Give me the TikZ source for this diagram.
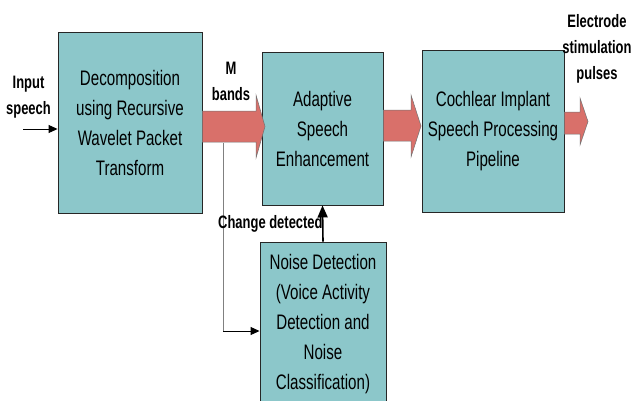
\documentclass[tikz,border=0pt]{standalone}
\usepackage{fontspec}
\setmainfont{Liberation Sans}[FakeStretch=0.72]
\usetikzlibrary{calc,arrows.meta}
\definecolor{boxfill}{RGB}{140,199,202}
\definecolor{fatred}{RGB}{217,112,106}
\tikzset{
  blockbox/.style={draw=black!85, line width=0.9pt, fill=boxfill, align=center, inner sep=0pt,
    font=\fontsize{21}{30}\selectfont},
  lbl/.style={align=center, inner sep=0pt, font=\fontsize{18}{26}\selectfont\bfseries},
  fatarrow/.style={fill=fatred, draw=black!55, line width=0.5pt},
  thinarrow/.style={draw=black, line width=1pt, -{Triangle[length=9pt,width=8pt]}},
}
\begin{document}
\begin{tikzpicture}[x=1pt,y=-1pt]
\clip (0,0) rectangle (632,400);
\useasboundingbox (0,0) rectangle (632,400);
\fill[white] (0,0) rectangle (632,400);

\node[blockbox, minimum width=144pt, minimum height=181pt] (dec) at (130,122.5)
  {Decomposition\\using Recursive\\Wavelet Packet\\Transform};
\node[blockbox, minimum width=121pt, minimum height=153pt] (ase) at (322.5,128.5)
  {Adaptive\\Speech\\Enhancement};
\node[blockbox, minimum width=142pt, minimum height=162pt] (ci) at (493,131)
  {Cochlear Implant\\Speech Processing\\Pipeline};
\node[blockbox, minimum width=126pt, minimum height=164pt] (nd) at (323,324)
  {Noise Detection\\(Voice Activity\\Detection and\\Noise\\Classification)};

% fat arrows
\fill[fatarrow] (dec.east |- 0,111) -- (256,111) -- (256,95) -- (265,126.5) -- (256,158) -- (256,142) -- (dec.east |- 0,142) -- cycle;
\fill[fatarrow] (ase.east |- 0,110) -- (411,110) -- (411,95) -- (421,126) -- (411,157) -- (411,141) -- (ase.east |- 0,141) -- cycle;
\fill[fatarrow] (ci.east |- 0,112) -- (580,112) -- (580,98) -- (588,121.5) -- (580,145) -- (580,134) -- (ci.east |- 0,134) -- cycle;

% input arrow
\coordinate (inp) at (23,129);
\draw[thinarrow] (inp) -- (dec.west |- inp);

% branch to noise detection
\coordinate (br) at (223,143);
\coordinate (bend) at (223,331);
\draw[black!50, line width=0.9pt] (br) -- (bend);
\draw[thinarrow] (bend) -- (nd.west |- bend);

% change detected arrow
\draw[draw=black, line width=1.6pt, -{Triangle[length=12pt,width=10pt]}] (nd.north) -- (ase.south);

% labels
\node[lbl] (inlbl) at (28.5,97) {Input\\speech};
\node[lbl] (mlbl) at (231,81) {M\\bands};
\node[lbl, anchor=base west] (chg) at (218,228) {Change detected};
\node[lbl] (elbl) at (597,49) {Electrode\\stimulation\\pulses};
\end{tikzpicture}
\end{document}
